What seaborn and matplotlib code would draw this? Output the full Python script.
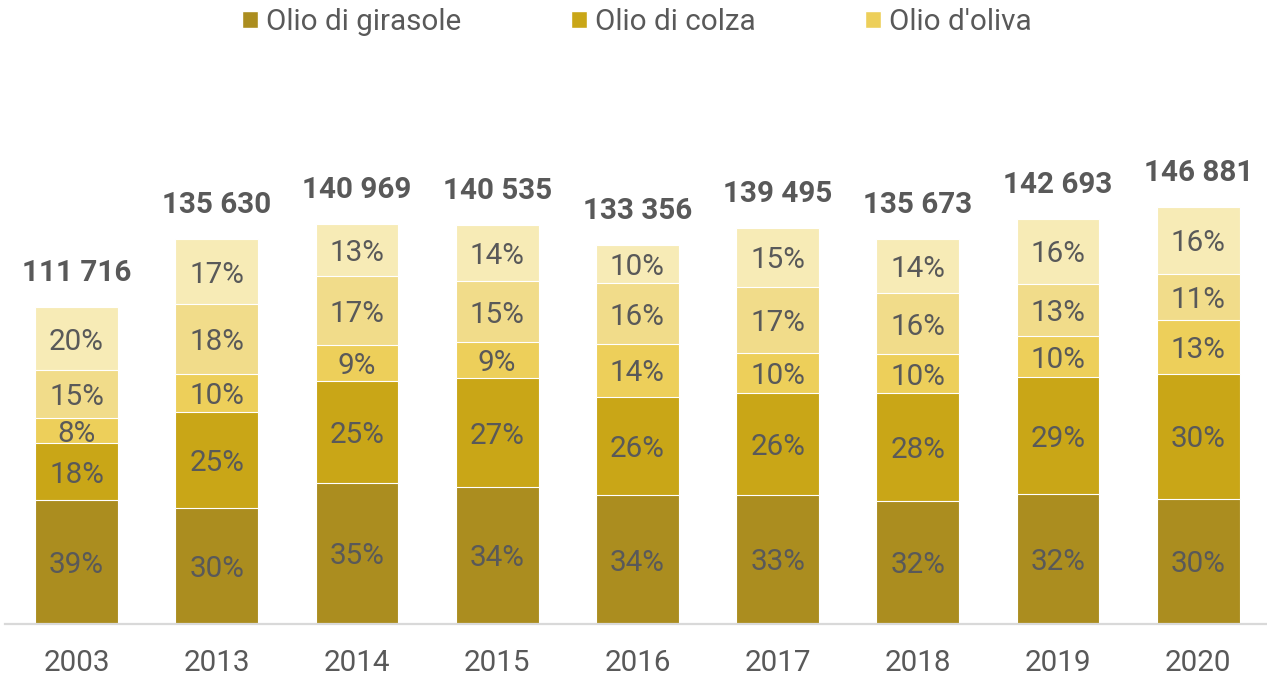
import numpy as np
import pandas as pd
import matplotlib
matplotlib.use("Agg")
import matplotlib.pyplot as plt
from matplotlib.patches import Patch
import seaborn as sns

# dati
anni = ["2003", "2013", "2014", "2015", "2016", "2017", "2018", "2019", "2020"]
totale = [111716, 135630, 140969, 140535, 133356, 139495, 135673, 142693, 146881]
girasole = [39, 30, 35, 34, 34, 33, 32, 32, 30]
colza = [18, 25, 25, 27, 26, 26, 28, 29, 30]
oliva = [8, 10, 9, 9, 14, 10, 10, 10, 13]
altro_1 = [15, 18, 17, 15, 16, 17, 16, 13, 11]
altro_2 = [20, 17, 13, 14, 10, 15, 14, 16, 16]

legenda = ["Olio di girasole", "Olio di colza", "Olio d'oliva"]
colori = ["#AB8D1F", "#C9A617", "#EDCF5A", "#F1DC8A", "#F7EBB6"]
grigio = "#595959"
fs = 21.3

sns.set_theme(style="white")
plt.rcParams["font.family"] = ["Roboto", "DejaVu Sans"]

quote = [girasole, colza, oliva, altro_1, altro_2]
pct = np.array(quote, dtype=float)
valori = pct / pct.sum(axis=0) * np.array(totale)   # segmenti in tonnellate
cumul = valori.cumsum(axis=0)

fig = plt.figure(figsize=(12.67, 6.76), dpi=100)
ax = fig.add_axes([5 / 1267, 52 / 676, 1262 / 1267, 624 / 676])

# barre impilate: dalla piu' alta alla piu' bassa
for k in range(len(quote) - 1, -1, -1):
    df = pd.DataFrame({"anno": anni, "valore": cumul[k]})
    sns.barplot(data=df, x="anno", y="valore", color=colori[k], width=0.59,
                saturation=1, edgecolor="white", linewidth=0.8, ax=ax)

# etichette percentuali
for k in range(len(quote)):
    for i in range(len(anni)):
        y = cumul[k][i] - valori[k][i] / 2
        ax.text(i, y, f"{quote[k][i]}%", ha="center", va="center_baseline",
                fontsize=fs, color=grigio)

# totali
for i, t in enumerate(totale):
    ax.annotate(f"{t:,}".replace(",", " "), (i, t), xytext=(0, 18.7),
                textcoords="offset points", ha="center", va="baseline",
                fontsize=fs, fontweight="bold", color=grigio)

ax.set_xlim(-0.51, 8.49)
ax.set_ylim(0, 219800)
ax.set_xlabel("")
ax.set_ylabel("")
ax.set_yticks([])
ax.tick_params(axis="x", length=0, pad=18, labelsize=fs, labelcolor=grigio)
for s in ["top", "left", "right"]:
    ax.spines[s].set_visible(False)
ax.spines["bottom"].set_color("#D9D9D9")
ax.spines["bottom"].set_linewidth(1.6)

handles = [Patch(facecolor=colori[k], label=legenda[k]) for k in range(3)]
fig.legend(handles=handles, loc="center", bbox_to_anchor=(0.5024, 0.968), ncol=3,
           frameon=False, fontsize=fs, labelcolor=grigio, handlelength=0.54,
           handleheight=0.5, handletextpad=0.27, columnspacing=3.7)

fig.savefig("out.png", dpi=100)
